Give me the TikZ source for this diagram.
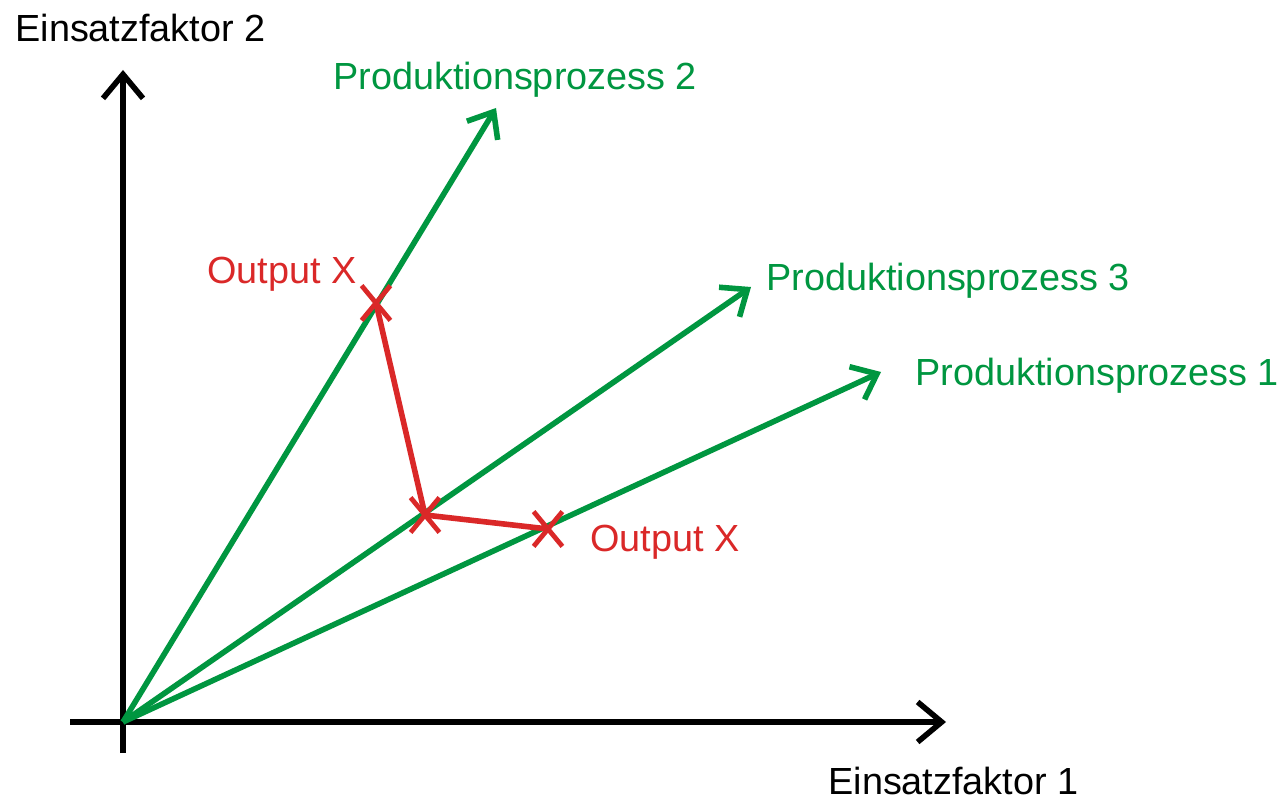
\documentclass[tikz,border=0pt]{standalone}
\usepackage{fontspec}
\setmainfont{Liberation Sans}
\usetikzlibrary{arrows.meta,shapes.misc}

\definecolor{prozgreen}{RGB}{0,150,64}
\definecolor{outred}{RGB}{218,40,40}

\tikzset{
  achse/.style={line width=2.8pt, -{Straight Barb[length=12pt,width=20pt]}},
  prozess/.style={prozgreen, line width=2.8pt, -{Straight Barb[length=11pt,width=18pt]}},
  kreuz/.style={draw=outred, cross out, line width=2.4pt, minimum width=12pt, minimum height=15pt, inner sep=0pt},
  isoquante/.style={outred, line width=2.8pt},
  beschriftung/.style={anchor=base west, inner sep=0pt, font=\fontsize{18.9}{22}\selectfont}
}

\begin{document}
\begin{tikzpicture}[x=0.5pt,y=0.5pt,yscale=-1,xscale=1]
\useasboundingbox (0,0) rectangle (1283,801);

%Achsen
\coordinate (O) at (123,722);
\coordinate (yunten) at (123,753);
\coordinate (ytop) at (123,70);
\coordinate (xlinks) at (70,722);
\coordinate (xrechts) at (946,722);
\draw [achse] (yunten) -- (ytop);
\draw [achse] (xlinks) -- (xrechts);

%Produktionsprozesse
\coordinate (p2) at (496,108);
\coordinate (p3) at (751,287);
\coordinate (p1) at (881,372);
\draw [prozess] (O) -- (p2);
\draw [prozess] (O) -- (p3);
\draw [prozess] (O) -- (p1);

%Output X
\node [kreuz] (x2) at (376,303) {};
\node [kreuz] (x3) at (425,515) {};
\node [kreuz] (x1) at (548,529) {};
\draw [isoquante] (x2.center) -- (x3.center) -- (x1.center);

% Text Node
\node [beschriftung] (l_e2) at (15,42) {Einsatzfaktor 2};
% Text Node
\node [beschriftung] (l_e1) at (828,794) {Einsatzfaktor 1};
% Text Node
\node [beschriftung, prozgreen] (l_p2) at (333,90) {Produktionsprozess 2};
% Text Node
\node [beschriftung, prozgreen] (l_p3) at (766,291) {Produktionsprozess 3};
% Text Node
\node [beschriftung, prozgreen] (l_p1) at (915,386) {Produktionsprozess 1};
% Text Node
\node [beschriftung, outred] (l_x2) at (207,284) {Output X};
% Text Node
\node [beschriftung, outred] (l_x1) at (590,551) {Output X};

\end{tikzpicture}
\end{document}
